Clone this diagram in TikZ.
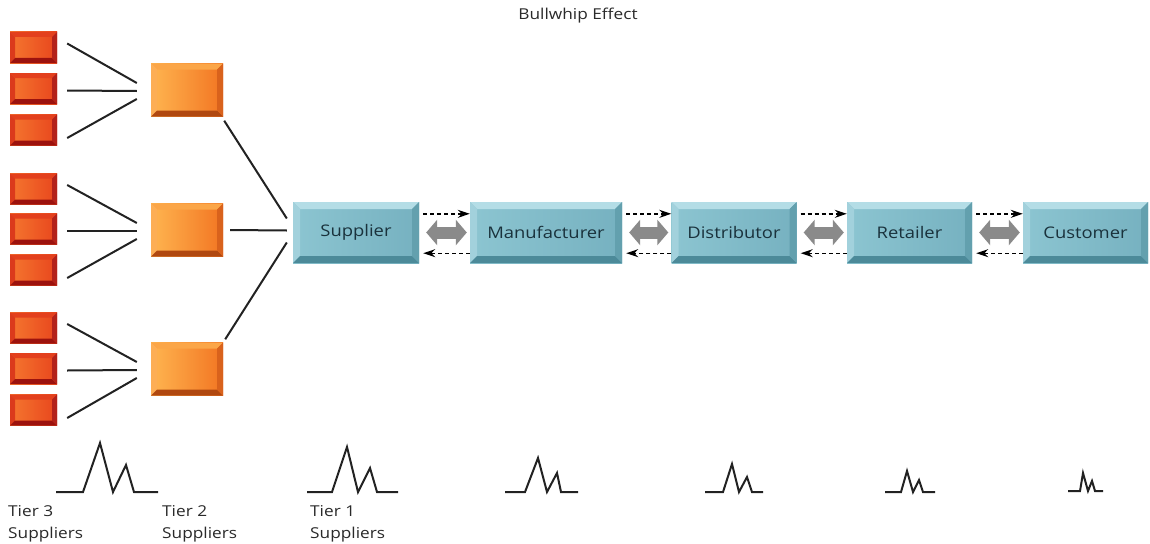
\documentclass[tikz,border=0pt]{standalone}
\usepackage{fontspec}
\setmainfont[FakeStretch=1.15]{Open Sans}
\usetikzlibrary{arrows.meta,calc}
\definecolor{bBody1}{HTML}{8CC5D1}
\definecolor{bBody2}{HTML}{76B1C0}
\definecolor{bTop}{HTML}{B4DDE6}
\definecolor{bLeft}{HTML}{A2D1DC}
\definecolor{bBot}{HTML}{4C8A99}
\definecolor{bRight}{HTML}{63A0AE}
\definecolor{bText}{HTML}{1A323C}
\definecolor{oBody1}{HTML}{FFB550}
\definecolor{oBody2}{HTML}{F27522}
\definecolor{oTop}{HTML}{FBA648}
\definecolor{oLeft}{HTML}{FDAE55}
\definecolor{oBot}{HTML}{B04810}
\definecolor{oRight}{HTML}{D9621C}
\definecolor{rBody1}{HTML}{F5762F}
\definecolor{rBody2}{HTML}{E8461D}
\definecolor{rTop}{HTML}{E3401D}
\definecolor{rLeft}{HTML}{DB3A1C}
\definecolor{rBot}{HTML}{9C120E}
\definecolor{rRight}{HTML}{B3221A}
\definecolor{lineCol}{HTML}{222222}
\definecolor{txtCol}{HTML}{2A2A2A}
\definecolor{flowCol}{HTML}{8A8A8A}
\tikzset{
  bevel/.style n args={5}{path picture={
    \coordinate (pNW) at (path picture bounding box.north west);
    \coordinate (pNE) at (path picture bounding box.north east);
    \coordinate (pSW) at (path picture bounding box.south west);
    \coordinate (pSE) at (path picture bounding box.south east);
    \fill[#2] (pNW) -- (pNE) -- ([shift={(-#1,-#1)}]pNE) -- ([shift={(#1,-#1)}]pNW) -- cycle;
    \fill[#3] (pNW) -- (pSW) -- ([shift={(#1,#1)}]pSW) -- ([shift={(#1,-#1)}]pNW) -- cycle;
    \fill[#4] (pSW) -- (pSE) -- ([shift={(-#1,#1)}]pSE) -- ([shift={(#1,#1)}]pSW) -- cycle;
    \fill[#5] (pNE) -- (pSE) -- ([shift={(-#1,#1)}]pSE) -- ([shift={(-#1,-#1)}]pNE) -- cycle;
  }},
  bluebox/.style={rectangle, inner sep=0pt, minimum height=61pt,
    left color=bBody1, right color=bBody2, bevel={7pt}{bTop}{bLeft}{bBot}{bRight},
    text=bText, font=\fontsize{16}{19}\selectfont},
  orangebox/.style={rectangle, inner sep=0pt, minimum width=72pt, minimum height=53pt,
    left color=oBody1, right color=oBody2, bevel={6pt}{oTop}{oLeft}{oBot}{oRight}},
  redbox/.style={rectangle, inner sep=0pt, minimum width=47pt, minimum height=31pt,
    left color=rBody1, right color=rBody2, bevel={5pt}{rTop}{rLeft}{rBot}{rRight}},
  link/.style={draw=lineCol, line width=2pt},
  wave/.style={draw=lineCol, line width=2pt, line join=miter},
  infoflow/.style={draw=black, line width=1.4pt, dash pattern=on 4pt off 3pt,
    -{Stealth[length=12pt,width=8pt]}},
  matflow/.style={draw=flowCol, line width=12pt,
    {Triangle[length=11pt,width=25pt]}-{Triangle[length=11pt,width=25pt]}},
  lbl/.style={inner sep=0pt, align=left, anchor=north west, text=txtCol,
    font=\fontsize{15}{22}\selectfont}
}
\begin{document}
\begin{tikzpicture}[x=1pt,y=-1pt]
\useasboundingbox (0,0) rectangle (1150,543);
\fill[white] (0,0) rectangle (1150,543);

\node[text=txtCol, font=\fontsize{15}{17}\selectfont] (title) at (578,16) {Bullwhip Effect};

% tier 1 chain
\node[bluebox, minimum width=126pt] (sup) at (356,232.5) {Supplier};
\node[bluebox, minimum width=152pt] (man) at (546,232.5) {Manufacturer};
\node[bluebox, minimum width=125pt] (dis) at (734,232.5) {Distributor};
\node[bluebox, minimum width=125pt] (ret) at (909.5,232.5) {Retailer};
\node[bluebox, minimum width=125pt] (cus) at (1085.5,232.5) {Customer};

% tier 2
\node[orangebox] (o1) at (187,90) {};
\node[orangebox] (o2) at (187,230) {};
\node[orangebox] (o3) at (187,369) {};

% tier 3
\node[redbox] (r1) at (33.5,47.5) {};
\node[redbox] (r2) at (33.5,88.5) {};
\node[redbox] (r3) at (33.5,130) {};
\node[redbox] (r4) at (33.5,189) {};
\node[redbox] (r5) at (33.5,229) {};
\node[redbox] (r6) at (33.5,270) {};
\node[redbox] (r7) at (33.5,328) {};
\node[redbox] (r8) at (33.5,368.5) {};
\node[redbox] (r9) at (33.5,410) {};

% tier3 -> tier2 links
\foreach \a/\b/\c/\o in {r1/r2/r3/o1, r4/r5/r6/o2, r7/r8/r9/o3}{
  \draw[link] ([shift={(10pt,4pt)}]\a.east) -- ([shift={(-14pt,7pt)}]\o.west);
  \draw[link] ([shift={(10pt,-2pt)}]\b.east) -- ([shift={(-14pt,-1pt)}]\o.west);
  \draw[link] ([shift={(10pt,-8pt)}]\c.east) -- ([shift={(-14pt,-9pt)}]\o.west);
}

% tier2 -> supplier links
\draw[link] ([shift={(1pt,-4pt)}]o1.south east) -- ([shift={(-6pt,14pt)}]sup.west);
\draw[link] ([shift={(7pt,0pt)}]o2.east) -- ([shift={(-6pt,2pt)}]sup.west);
\draw[link] ([shift={(2pt,3pt)}]o3.north east) -- ([shift={(-6pt,-10pt)}]sup.west);

% flows between chain members
\foreach \a/\b in {sup/man, man/dis, dis/ret, ret/cus}{
  \draw[infoflow] ([shift={(4pt,-12pt)}]\a.north east) -- ([shift={(0pt,-12pt)}]\b.north west);
  \draw[infoflow] ([shift={(0pt,10pt)}]\b.south west) -- ([shift={(4pt,10pt)}]\a.south east);
  \draw[matflow] ([shift={(7pt,0pt)}]\a.east) -- ([shift={(-3pt,0pt)}]\b.west);
}

% demand variability waves
\draw[wave] (56,492) -- (83,492) -- (100,443) -- (113,492) -- (126,465) -- (134,492) -- (158,492);
\draw[wave] (307,492) -- (332,492) -- (347,447) -- (358,492) -- (370,468) -- (377,492) -- (398,492);
\draw[wave] (505,492) -- (525,492) -- (538,458) -- (547,492) -- (557,473) -- (561,492) -- (578,492);
\draw[wave] (705,492) -- (723,492) -- (732,464) -- (739,492) -- (747,477) -- (752,492) -- (763,492);
\draw[wave] (885,492) -- (901,492) -- (907,471) -- (913,492) -- (919,480) -- (923,492) -- (935,492);
\draw[wave] (1068,491) -- (1080,491) -- (1083,473) -- (1088,491) -- (1092,481) -- (1095,491) -- (1103,491);

% labels
\node[lbl] (l3) at (8,505) {Tier 3\\Suppliers};
\node[lbl] (l2) at (162,505) {Tier 2\\Suppliers};
\node[lbl] (l1) at (310,505) {Tier 1\\Suppliers};
\end{tikzpicture}
\end{document}
